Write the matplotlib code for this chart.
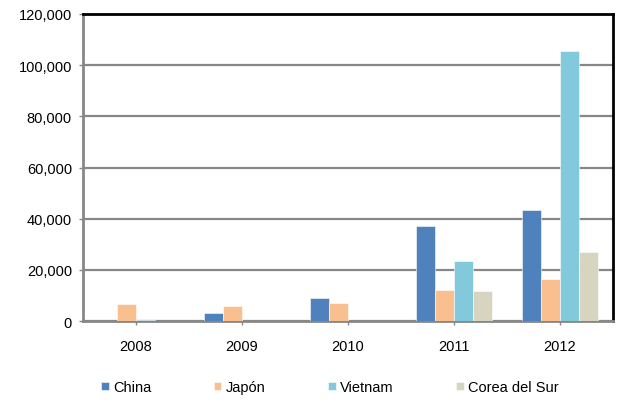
import numpy as np
import matplotlib.pyplot as plt
from matplotlib.ticker import FuncFormatter

plt.rcParams['font.family'] = ['Liberation Sans', 'DejaVu Sans']

years = ['2008', '2009', '2010', '2011', '2012']
series = ['China', 'Japón', 'Vietnam', 'Corea del Sur']
china = [0, 3000, 9000, 37200, 43500]
japon = [6800, 5700, 7200, 12100, 16400]
vietnam = [300, 0, 0, 23300, 105600]
corea = [0, 0, 0, 11600, 27100]
colors = ['#4F81BD', '#FABF8F', '#82C9DC', '#D7D4BF']

fig = plt.figure(figsize=(6.21, 4.06), dpi=100)
ax = fig.add_axes([83 / 621, 1 - 322 / 406, 530 / 621, 307 / 406])

x = np.arange(len(years))
w = 0.18
values = [china, japon, vietnam, corea]
for i, (name, vals) in enumerate(zip(series, values)):
    ax.bar(x + (i - 1.5) * w, vals, w, color=colors[i], label=name,
           edgecolor='white', linewidth=0.4, zorder=3)

ax.set_xlim(-0.5, 4.5)
ax.set_ylim(0, 120000)
ax.set_yticks(np.arange(0, 120001, 20000))
ax.yaxis.set_major_formatter(FuncFormatter(lambda v, p: f'{int(v):,}'))
ax.set_xticks(x)
ax.set_xticklabels(years)
ax.grid(axis='y', color='#878787', linewidth=1.6, zorder=0)

ax.spines['left'].set_color('#878787')
ax.spines['bottom'].set_color('#878787')
ax.spines['left'].set_linewidth(2)
ax.spines['bottom'].set_linewidth(2)
ax.spines['top'].set_color('black')
ax.spines['right'].set_color('black')
ax.spines['top'].set_linewidth(2)
ax.spines['right'].set_linewidth(2)
ax.tick_params(axis='both', colors='#878787', labelcolor='black', labelsize=10.5,
               length=3, width=1)
ax.tick_params(axis='x', pad=10)
ax.tick_params(axis='y', pad=5)

ax.legend(loc='center', bbox_to_anchor=(0.466, -0.215), ncol=4, frameon=False,
          fontsize=10.5, handlelength=0.5, handleheight=0.5, handletextpad=0.3,
          columnspacing=4.3, borderpad=0)

fig.savefig('out.png', dpi=100)
